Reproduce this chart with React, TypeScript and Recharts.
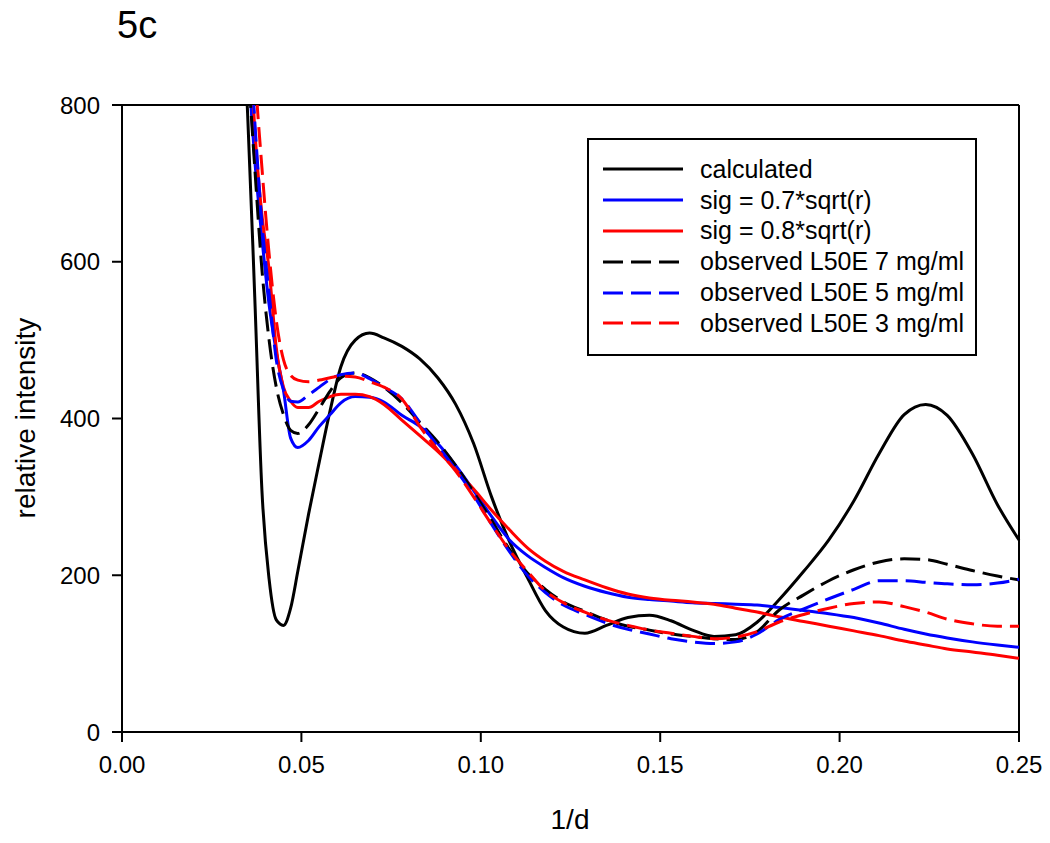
import { LineChart, Line, XAxis, YAxis, ReferenceLine, Legend } from "recharts"

const font = "'Liberation Sans', Arial, sans-serif"

// 1/d sample positions
const xs = [
  0.033, 0.035, 0.037, 0.039, 0.041, 0.043, 0.045, 0.047, 0.049, 0.052, 0.055, 0.058, 0.061, 0.065,
  0.069, 0.073, 0.078, 0.083, 0.088, 0.093, 0.098, 0.103, 0.108, 0.113, 0.118, 0.123, 0.129, 0.135,
  0.141, 0.147, 0.153, 0.159, 0.165, 0.171, 0.177, 0.183, 0.19, 0.197, 0.204, 0.211, 0.218, 0.224,
  0.23, 0.237, 0.244, 0.25,
]

const calculated = [
  950, 790, 555, 308, 195, 143, 136, 158, 205, 278, 345, 410, 466, 500,
  509, 503, 492, 476, 452, 418, 368, 300, 243, 197, 155, 134, 126, 136,
  146, 149, 142, 130, 122, 124, 140, 168, 205, 245, 295, 355, 405, 418,
  404, 355, 290, 245,
]

const sig07 = [
  1000, 860, 730, 630, 545, 485, 436, 375, 363, 372, 390, 405, 420, 428,
  427, 421, 404, 390, 368, 340, 308, 275, 245, 225, 210, 197, 186, 178,
  172, 169, 167, 165, 164, 163, 162, 159, 155, 151, 146, 139, 131, 125,
  120, 115, 111, 108,
]

const sig08 = [
  1100, 950, 770, 660, 590, 490, 440, 422, 414, 414, 422, 428, 431, 431,
  428, 418, 398, 378, 358, 335, 310, 283, 258, 235, 218, 205, 194, 184,
  176, 171, 168, 166, 163, 158, 153, 147, 141, 135, 129, 123, 116, 111,
  106, 102, 98, 94,
]

const obs7 = [
  1000, 860, 720, 590, 500, 440, 405, 385, 381, 392, 413, 435, 452, 458,
  452, 440, 420, 395, 370, 340, 306, 270, 233, 203, 182, 166, 154, 143,
  135, 130, 125, 122, 119, 118, 128, 155, 175, 193, 207, 217, 221, 220,
  214, 206, 199, 194,
]

const obs5 = [
  1100, 940, 780, 650, 560, 475, 437, 422, 421, 430, 440, 450, 456, 458,
  451, 440, 425, 395, 365, 335, 302, 265, 230, 200, 178, 162, 150, 139,
  131, 125, 119, 115, 113, 115, 125, 143, 157, 170, 182, 193, 193, 191,
  189, 188, 190, 195,
]

const obs3 = [
  1200, 1050, 850, 720, 610, 525, 475, 455, 449, 447, 449, 452, 454, 453,
  447, 440, 425, 390, 360, 333, 300, 265, 232, 205, 180, 165, 153, 143,
  136, 130, 126, 122, 119, 121, 128, 140, 150, 158, 164, 166, 160, 153,
  144, 138, 135, 135,
]

const xTicks = [0, 0.05, 0.1, 0.15, 0.2, 0.25]
const yTicks = [0, 200, 400, 600, 800]

const series = [
  { key: "calculated", name: "calculated", color: "#000000", dash: undefined, values: calculated },
  { key: "sig07", name: "sig = 0.7*sqrt(r)", color: "#0000ff", dash: undefined, values: sig07 },
  { key: "sig08", name: "sig = 0.8*sqrt(r)", color: "#ff0000", dash: undefined, values: sig08 },
  { key: "obs7", name: "observed L50E 7 mg/ml", color: "#000000", dash: "20 8", values: obs7 },
  { key: "obs5", name: "observed L50E 5 mg/ml", color: "#0000ff", dash: "20 8", values: obs5 },
  { key: "obs3", name: "observed L50E 3 mg/ml", color: "#ff0000", dash: "20 8", values: obs3 },
]

const data = xs.map((x, i) => {
  const row: Record<string, number> = { x }
  series.forEach((s) => {
    row[s.key] = s.values[i]
  })
  return row
})

function LegendBox() {
  return (
    <div
      style={{
        width: 386,
        height: 200,
        border: "2px solid #000",
        background: "#fff",
        boxSizing: "content-box",
        paddingTop: 14,
        fontFamily: font,
        fontSize: 25,
        color: "#000",
      }}
    >
      {series.map((s) => (
        <div key={s.key} style={{ display: "flex", alignItems: "center", height: 30.8 }}>
          <svg width={80} height={6} style={{ marginLeft: 14, marginRight: 17 }}>
            <line x1={0} y1={3} x2={80} y2={3} stroke={s.color} strokeWidth={3} strokeDasharray={s.dash} />
          </svg>
          <span style={{ whiteSpace: "nowrap" }}>{s.name}</span>
        </div>
      ))}
    </div>
  )
}

export default function App() {
  return (
    <div style={{ position: "absolute", left: 0, top: 0, width: 1050, height: 843, background: "#fff" }}>
      <div style={{ position: "absolute", left: 117, top: 6, fontFamily: font, fontSize: 38, lineHeight: "38px" }}>
        5c
      </div>
      <div
        style={{
          position: "absolute",
          left: 26,
          top: 418,
          transform: "translate(-50%, -50%) rotate(-90deg)",
          fontFamily: font,
          fontSize: 28,
          whiteSpace: "nowrap",
        }}
      >
        relative intensity
      </div>
      <div
        style={{
          position: "absolute",
          left: 570,
          top: 820,
          transform: "translate(-50%, -50%)",
          fontFamily: font,
          fontSize: 28,
        }}
      >
        1/d
      </div>
      <LineChart width={1050} height={843} data={data} margin={{ top: 105, right: 31, bottom: 51, left: 42 }}>
        <XAxis
          dataKey="x"
          type="number"
          domain={[0, 0.25]}
          ticks={xTicks}
          tickFormatter={(v: number) => v.toFixed(2)}
          height={60}
          tickSize={10}
          tickMargin={14}
          stroke="#000"
          strokeWidth={2}
          tick={{ fill: "#000", fontSize: 24, fontFamily: font }}
        />
        <YAxis
          type="number"
          domain={[0, 800]}
          ticks={yTicks}
          allowDataOverflow
          width={80}
          tickSize={10}
          tickMargin={12}
          stroke="#000"
          strokeWidth={2}
          tick={{ fill: "#000", fontSize: 24, fontFamily: font }}
        />
        <ReferenceLine y={800} stroke="#000" strokeWidth={2} />
        <ReferenceLine x={0.25} stroke="#000" strokeWidth={2} />
        {series.map((s) => (
          <Line
            key={s.key}
            dataKey={s.key}
            name={s.name}
            type="monotone"
            stroke={s.color}
            strokeWidth={3}
            strokeDasharray={s.dash}
            dot={false}
            activeDot={false}
            isAnimationActive={false}
          />
        ))}
        <Legend
          layout="vertical"
          align="center"
          verticalAlign="middle"
          wrapperStyle={{ left: 587, top: 138, width: "auto" }}
          content={() => <LegendBox />}
        />
      </LineChart>
    </div>
  )
}
